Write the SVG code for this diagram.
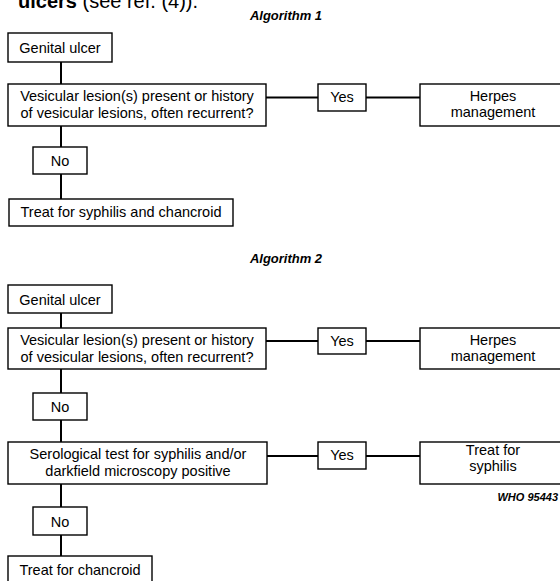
<svg xmlns="http://www.w3.org/2000/svg" width="560" height="581" viewBox="0 0 560 581">
<style>
.box{fill:#fff;stroke:#000;stroke-width:1.4}
.t{font-family:"Liberation Sans",Arial,sans-serif;font-size:14.5px;fill:#000;text-anchor:middle}
.ti{font-family:"Liberation Sans",Arial,sans-serif;font-size:13px;font-weight:bold;font-style:italic;fill:#000;text-anchor:middle}
.c{stroke:#000;stroke-width:2;fill:none}
</style>
<rect width="560" height="581" fill="#fff"/>
<text x="18" y="8" font-family="Liberation Sans, Arial, sans-serif" font-size="20" fill="#000"><tspan font-weight="bold">ulcers</tspan> (see ref. (4)).</text>
<text class="ti" x="286" y="20">Algorithm 1</text>
<text class="ti" x="286" y="263">Algorithm 2</text>
<text x="558" y="501" font-family="Liberation Sans, Arial, sans-serif" font-size="11" font-weight="bold" font-style="italic" text-anchor="end" fill="#000">WHO 95443</text>
<g id="connectors">
<path class="c" d="M61 62V84M61 126V147M61 174V199M266 97.5H318M366 97.5H420"/>
<path class="c" d="M61 313V328M61 369V393M61 420V442M61 484V507M61 535V556M266 341H318M366 341H420M267 456H318M366 456H420"/>
</g>
<g id="a1-genital"><rect class="box" x="8" y="33" width="104" height="29"/><text class="t" x="60" y="53">Genital ulcer</text></g>
<g id="a1-vesicular"><rect class="box" x="8" y="84" width="258" height="42"/><text class="t" x="137" y="101">Vesicular lesion(s) present or history</text><text class="t" x="137" y="118">of vesicular lesions, often recurrent?</text></g>
<g id="a1-yes"><rect class="box" x="318" y="84" width="48" height="27"/><text class="t" x="342" y="102">Yes</text></g>
<g id="a1-herpes"><rect class="box" x="420" y="84" width="146" height="42"/><text class="t" x="493" y="101">Herpes</text><text class="t" x="493" y="117">management</text></g>
<g id="a1-no"><rect class="box" x="33" y="147" width="54" height="27"/><text class="t" x="60" y="166">No</text></g>
<g id="a1-treat"><rect class="box" x="9" y="199" width="224" height="27"/><text class="t" x="121" y="217">Treat for syphilis and chancroid</text></g>
<g id="a2-genital"><rect class="box" x="8" y="285" width="104" height="28"/><text class="t" x="60" y="305">Genital ulcer</text></g>
<g id="a2-vesicular"><rect class="box" x="8" y="328" width="258" height="41"/><text class="t" x="137" y="345">Vesicular lesion(s) present or history</text><text class="t" x="137" y="362">of vesicular lesions, often recurrent?</text></g>
<g id="a2-yes1"><rect class="box" x="318" y="328" width="48" height="26"/><text class="t" x="342" y="346">Yes</text></g>
<g id="a2-herpes"><rect class="box" x="420" y="328" width="146" height="41"/><text class="t" x="493" y="345">Herpes</text><text class="t" x="493" y="361">management</text></g>
<g id="a2-no1"><rect class="box" x="33" y="393" width="54" height="27"/><text class="t" x="60" y="412">No</text></g>
<g id="a2-serological"><rect class="box" x="8" y="442" width="259" height="42"/><text class="t" x="138" y="459">Serological test for syphilis and/or</text><text class="t" x="138" y="476">darkfield microscopy positive</text></g>
<g id="a2-yes2"><rect class="box" x="318" y="442" width="48" height="27"/><text class="t" x="342" y="460">Yes</text></g>
<g id="a2-syphilis"><rect class="box" x="420" y="442" width="146" height="42"/><text class="t" x="493" y="455">Treat for</text><text class="t" x="493" y="471">syphilis</text></g>
<g id="a2-no2"><rect class="box" x="33" y="507" width="54" height="28"/><text class="t" x="60" y="527">No</text></g>
<g id="a2-chancroid"><rect class="box" x="8" y="556" width="144" height="30"/><text class="t" x="80" y="575">Treat for chancroid</text></g>
</svg>
